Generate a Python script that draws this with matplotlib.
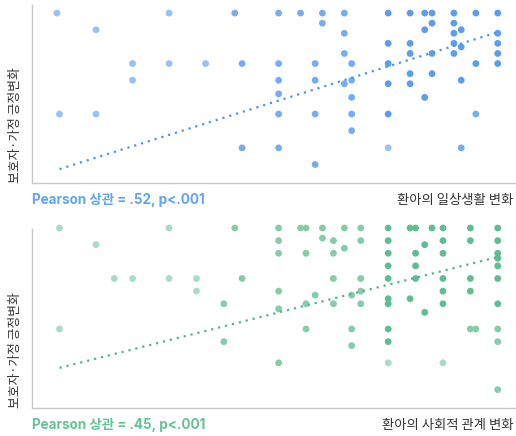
import matplotlib as mpl
mpl.use('Agg')
import matplotlib.pyplot as plt
import numpy as np

plt.rcParams['font.family'] = ['Inter', 'Noto Sans CJK KR', 'DejaVu Sans']

# ---- data: top panel (daily life change vs caregiver/family change) ----
# n = how many respondents sit on that point (1 light, 2 medium, 3+ dark)
daily_x = [-0.07, 3, 4.8, 1, 2, 3, 4, 5, 2, 0, 1, 5,
           6, 6.6, 7.2, 7.8, 9, 9.6, 10, 10.2, 10.8, 11.4, 12,
           7.2, 10.2, 10.8,
           10, 11,
           7.8, 10.8, 12,
           9, 9.6, 10.8, 12,
           11,
           7.8, 9.6, 10.2, 10.8, 12,
           6, 7, 8, 9, 11.4, 12,
           9.6, 10.2,
           6, 7, 8, 11,
           7.8, 9, 9.6,
           6,
           8, 10,
           6, 7, 8, 9, 11.4,
           8,
           6, 9, 11,
           7]
daily_y = [4.0, 4.0, 4.0, 3.67, 3.0, 3.0, 3.0, 3.0, 2.67, 2.0, 2.0, 1.33,
           4.0, 4.0, 4.0, 4.0, 4.0, 4.0, 4.0, 4.0, 4.0, 4.0, 4.0,
           3.8, 3.8, 3.8,
           3.67, 3.67,
           3.6, 3.6, 3.6,
           3.4, 3.4, 3.4, 3.4,
           3.33,
           3.2, 3.2, 3.2, 3.2, 3.2,
           3.0, 3.0, 3.0, 3.0, 3.0, 3.0,
           2.8, 2.8,
           2.67, 2.67, 2.67, 2.67,
           2.6, 2.6, 2.6,
           2.4,
           2.33, 2.33,
           2.0, 2.0, 2.0, 2.0, 2.0,
           1.67,
           1.33, 1.33, 1.33,
           1.0]
daily_n = [1, 1, 2, 1, 1, 1, 1, 2, 1, 1, 1, 2,
           2, 2, 2, 2, 3, 3, 3, 3, 3, 3, 3,
           2, 3, 3,
           3, 3,
           2, 3, 3,
           3, 3, 3, 3,
           3,
           2, 3, 3, 3, 3,
           2, 2, 2, 3, 3, 3,
           3, 3,
           2, 2, 2, 3,
           2, 3, 3,
           2,
           2, 3,
           2, 2, 2, 3, 2,
           2,
           2, 1, 2,
           2]
daily_fit = (0.91, 0.226)   # intercept, slope
daily_r = '.52'

# ---- data: bottom panel (social relation change) ----
social_x = [0, 3, 4.8, 1, 1.5, 2, 3, 3.75, 5, 3.75, 4.5, 0, 4.5,
            6, 6.6, 6.75, 7.2, 7.8, 8.25, 9, 9.6, 9.75, 10.2, 10.5, 11.25, 12,
            6, 7.2, 7.5, 8.25, 9, 10.5, 11.25, 12,
            10, 7.8,
            6, 6.75, 7.5, 9, 9.75, 10.5, 12,
            12,
            9, 9.75, 12,
            7.5, 8.25, 9, 9.75, 10.5, 11.25, 12,
            6, 8.25, 10.5, 11.25,
            7, 8,
            9, 9.6,
            6.75, 7.5, 8.25, 9, 10.5, 12,
            6,
            10,
            6.75, 8, 9, 11.25, 11.4, 12,
            9, 12,
            8,
            6, 9, 10.5,
            12]
social_y = [4.0, 4.0, 4.0, 3.67, 3.0, 3.0, 3.0, 3.0, 3.0, 2.75, 2.5, 2.0, 1.75,
            4.0, 4.0, 4.0, 4.0, 4.0, 4.0, 4.0, 4.0, 4.0, 4.0, 4.0, 4.0, 4.0,
            3.75, 3.8, 3.75, 3.75, 3.75, 3.75, 3.75, 3.75,
            3.67, 3.6,
            3.5, 3.5, 3.5, 3.5, 3.5, 3.5, 3.5,
            3.4,
            3.25, 3.25, 3.25,
            3.0, 3.0, 3.0, 3.0, 3.0, 3.0, 3.0,
            2.75, 2.75, 2.75, 2.75,
            2.67, 2.67,
            2.6, 2.6,
            2.5, 2.5, 2.5, 2.5, 2.5, 2.5,
            2.4,
            2.33,
            2.0, 2.0, 2.0, 2.0, 2.0, 2.0,
            1.75, 1.75,
            1.67,
            1.33, 1.33, 1.33,
            0.8]
social_n = [1, 1, 2, 1, 1, 1, 1, 1, 2, 1, 2, 1, 2,
            2, 2, 2, 2, 2, 2, 3, 3, 3, 3, 3, 3, 3,
            2, 2, 2, 2, 3, 3, 3, 3,
            3, 2,
            2, 2, 2, 3, 3, 3, 3,
            3,
            3, 3, 3,
            2, 2, 3, 3, 3, 3, 3,
            2, 2, 3, 3,
            2, 2,
            3, 3,
            2, 2, 2, 3, 3, 3,
            2,
            3,
            2, 2, 3, 2, 2, 2,
            3, 2,
            2,
            2, 1, 1,
            2]
social_fit = (1.23, 0.183)
social_r = '.45'

ylabel = '보호자·가정 긍정변화'
daily_label = '환아의 일상생활 변화'
social_label = '환아의 사회적 관계 변화'

# ---- styling ----
blue_shades = ['#96c2f9', '#74adf6', '#5a9ef4']
green_shades = ['#a8dcc4', '#84ccaa', '#5ebd92']
blue_text, green_text = '#60a5f5', '#64c396'
blue_line, green_line = '#4d94f0', '#52b587'

fig = plt.figure(figsize=(5.16, 4.36), dpi=100)
ax_top = fig.add_axes([32/516, 1 - 183/436, 484/516, 178/436])
ax_bot = fig.add_axes([32/516, 1 - 408/436, 484/516, 179/436])


def panel(ax, xs, ys, ns, fit, r, shades, tcol, lcol, xlabel, ylim):
    ax.scatter(xs, ys, s=24, c=[shades[n - 1] for n in ns],
               linewidths=0, clip_on=False, zorder=2)
    fx = np.array([0, 12])
    ax.plot(fx, fit[0] + fit[1] * fx, color=lcol, lw=1.6,
            dashes=(1, 2.2), zorder=3)
    ax.set_xlim(-0.753, 12.5)
    ax.set_ylim(*ylim)
    for s in ['top', 'right']:
        ax.spines[s].set_visible(False)
    for s in ['left', 'bottom']:
        ax.spines[s].set_color('#c8c8c8')
        ax.spines[s].set_linewidth(1.0)
    ax.set_xticks([])
    ax.set_yticks([])
    ax.text(-0.035, 0, ylabel, rotation=90, ha='center', va='bottom',
            transform=ax.transAxes, fontsize=9.2, color='#333333',
            family=['Noto Sans CJK KR'])
    ax.text(0, -0.095, 'Pearson 상관 = %s, p<.001' % r, transform=ax.transAxes,
            ha='left', va='center', fontsize=9.7, fontweight='bold', color=tcol)
    ax.text(0.995, -0.095, xlabel, transform=ax.transAxes, ha='right',
            va='center', fontsize=9.6, color='#333333',
            family=['Noto Sans CJK KR'])


panel(ax_top, daily_x, daily_y, daily_n, daily_fit, daily_r, blue_shades,
      blue_text, blue_line, daily_label, (0.634, 4.16))
panel(ax_bot, social_x, social_y, social_n, social_fit, social_r, green_shades,
      green_text, green_line, social_label, (0.436, 3.98))

fig.savefig('out.png', dpi=100)
